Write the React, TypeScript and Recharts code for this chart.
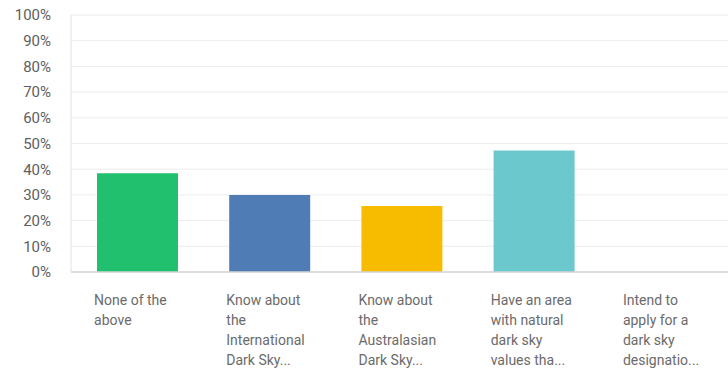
import React from 'react';
import { BarChart, Bar, XAxis, YAxis, CartesianGrid, Cell } from 'recharts';

const categories = [
  'None of the above',
  'Know about the International Dark Sky...',
  'Know about the Australasian Dark Sky...',
  'Have an area with natural dark sky values tha...',
  'Intend to apply for a dark sky designatio...',
];
const labelLines = [
  ['None of the', 'above'],
  ['Know about', 'the', 'International', 'Dark Sky...'],
  ['Know about', 'the', 'Australasian', 'Dark Sky...'],
  ['Have an area', 'with natural', 'dark sky', 'values tha...'],
  ['Intend to', 'apply for a', 'dark sky', 'designatio...'],
];
const values = [38.4, 30.0, 25.7, 47.3, 0];
const colors = ['#21c06e', '#507cb6', '#f7bc00', '#6bc8cd', '#a0a0a0'];
const yTicks = [0, 10, 20, 30, 40, 50, 60, 70, 80, 90, 100];

const data = categories.map((name, i) => ({ name, value: values[i] }));

const CategoryTick = (props: any) => {
  const { x, y, payload } = props;
  const lines = labelLines[payload.index] || [];
  return (
    <text
      x={x - 43}
      y={y}
      fill="#6b6b6b"
      fontSize={14}
      fontFamily="Roboto, sans-serif"
      textAnchor="start"
    >
      {lines.map((l, i) => (
        <tspan key={i} x={x - 43} y={y + 33 + i * 20}>
          {l}
        </tspan>
      ))}
    </text>
  );
};

export default function App() {
  return (
    <div style={{ position: 'absolute', left: 0, top: 0, width: 728, height: 369, overflow: 'hidden' }}>
      <BarChart
        width={732}
        height={369}
        data={data}
        margin={{ top: 15, right: 0, left: 8, bottom: 0 }}
      >
        <CartesianGrid vertical={false} stroke="#ececec" />
        <XAxis
          dataKey="name"
          height={97}
          interval={0}
          tickLine={false}
          tickSize={0}
          tickMargin={0}
          axisLine={{ stroke: '#d4d4d4', strokeWidth: 1.5 }}
          tick={<CategoryTick />}
        />
        <YAxis
          width={63}
          domain={[0, 100]}
          ticks={yTicks}
          interval={0}
          tickFormatter={(v: number) => `${v}%`}
          tickLine={false}
          tickSize={0}
          tickMargin={20}
          axisLine={{ stroke: '#e2e2e2' }}
          tick={{ fill: '#5e5e5e', fontSize: 15, fontFamily: 'Roboto, sans-serif' }}
        />
        <Bar dataKey="value" barSize={81} isAnimationActive={false}>
          {data.map((d, i) => (
            <Cell key={d.name} fill={colors[i]} />
          ))}
        </Bar>
      </BarChart>
    </div>
  );
}
